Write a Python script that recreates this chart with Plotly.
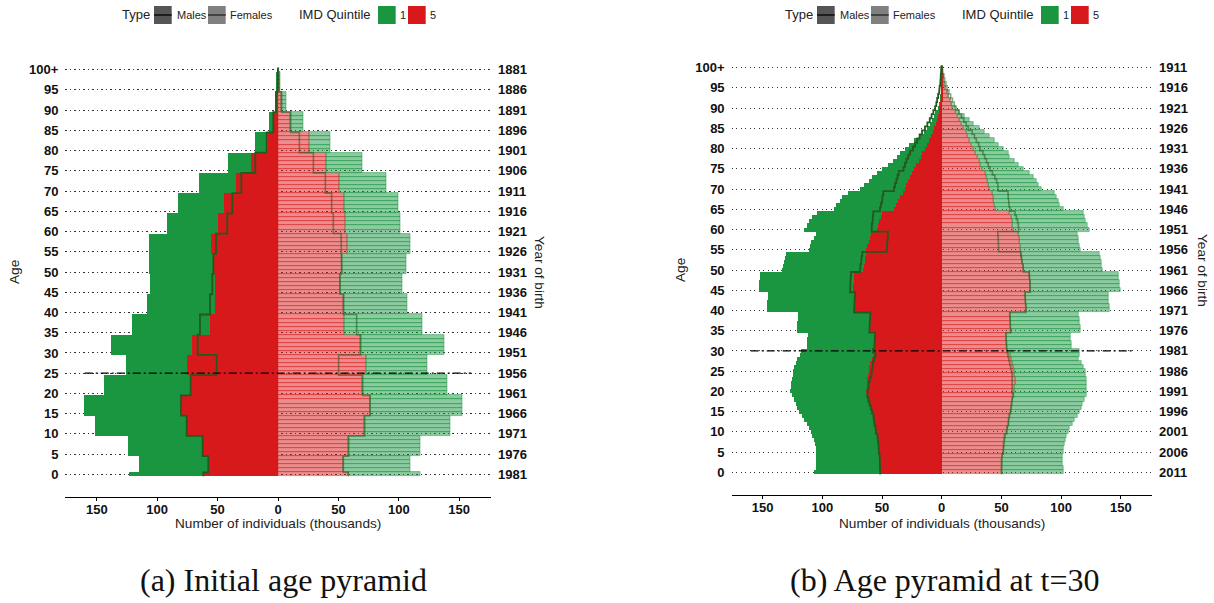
import numpy as np
import plotly.graph_objects as go

# ---------------------------------------------------------------------------
# Panel (a): initial population (thousands), by age group
# groups: 0, 1-4, 5-9, ..., 95-99, 100+
# ---------------------------------------------------------------------------
GROUP_START = [0, 1, 5, 10, 15, 20, 25, 30, 35, 40, 45, 50, 55, 60, 65, 70, 75, 80, 85, 90, 95, 100]

a_male_q1 = [123.3, 115.1, 124.2, 151.5, 160.6, 144.0, 125.8, 138.2, 120.9, 108.4, 106.0,
             106.5, 106.5, 91.6, 82.5, 65.1, 41.1, 18.8, 7.2, 2.2, 0.6, 0.3]
a_male_q5 = [61.8, 57.7, 62.4, 75.6, 80.3, 72.3, 75.1, 71.2, 56.3, 52.2, 52.2,
             53.5, 55.5, 49.7, 44.7, 34.8, 22.1, 8.3, 3.9, 1.3, 0.3, 0.1]
a_male_ref = [61.8, 57.7, 62.4, 75.6, 80.3, 72.3, 50.8, 66.5, 64.6, 56.3, 54.4,
              53.5, 51.3, 42.0, 37.8, 30.4, 18.8, 9.4, 3.9, 1.6, 0.4, 0.1]
a_female_q1 = [117.5, 109.3, 117.5, 143.0, 152.9, 140.5, 123.9, 138.0, 119.8, 107.4, 103.2,
               106.5, 109.8, 101.6, 99.9, 90.0, 70.1, 43.6, 21.0, 6.6, 2.0, 0.5]
a_female_q5 = [58.2, 54.1, 58.5, 71.8, 76.2, 70.1, 73.4, 68.5, 54.9, 54.9, 51.3,
               53.2, 57.4, 55.7, 54.6, 50.8, 40.3, 25.7, 10.5, 3.0, 1.0, 0.3]
a_female_ref = [58.2, 54.1, 58.5, 71.8, 76.2, 70.1, 50.2, 68.5, 65.1, 54.0, 51.3,
                52.7, 52.2, 45.8, 44.4, 39.2, 29.3, 17.7, 10.5, 3.0, 0.8, 0.3]

# ---------------------------------------------------------------------------
# Panel (b): population at t = 30 (thousands), single years of age 0..100
# ---------------------------------------------------------------------------
b_male_q1 = [
    106.9, 106.0, 105.6, 105.4, 105.4, 105.7, 106.0, 106.6, 107.4, 108.8,   # 0-9
    110.2, 111.6, 113.0, 115.8, 117.2, 120.0, 121.4, 122.8, 124.2, 125.6,   # 10-19
    127.0, 126.8, 126.5, 125.9, 125.3, 124.8, 124.2, 122.8, 121.4, 119.2,   # 20-29
    118.0, 113.5, 113.2, 112.9, 112.6, 121.8, 121.5, 121.2, 120.9, 120.5,   # 30-39
    147.0, 146.8, 146.5, 146.2, 146.0, 153.8, 153.5, 153.2, 152.8, 152.4,   # 40-49
    134.5, 133.5, 132.5, 131.5, 130.5, 111.7, 111.0, 109.5, 107.6, 106.0,   # 50-59
    115.3, 113.0, 111.7, 109.0, 104.7, 90.8, 88.5, 85.2, 83.8, 79.0,        # 60-69
    68.4, 65.6, 61.5, 58.7, 54.5, 50.4, 45.5, 41.5, 38.0, 35.0,             # 70-79
    30.8, 28.0, 23.7, 19.5, 15.4, 12.6, 9.8, 8.4, 7.0, 5.6,                 # 80-89
    3.6, 2.8, 2.0, 1.4, 1.1, 0.8, 0.6, 0.4, 0.3, 0.2,                       # 90-99
    0.3]
b_male_q5 = [
    51.5, 51.8, 51.8, 51.9, 52.0, 52.5, 52.8, 53.1, 53.4, 53.9,
    55.0, 55.5, 56.3, 56.9, 57.2, 58.3, 59.4, 60.4, 61.5, 62.3,
    63.4, 63.1, 62.9, 62.6, 62.0, 61.5, 60.9, 60.1, 58.7, 57.3,
    58.0, 56.6, 56.4, 56.2, 56.0, 60.8, 60.6, 60.4, 60.2, 60.0,
    73.6, 73.4, 73.2, 73.0, 72.8, 74.6, 74.4, 74.2, 74.0, 73.8,
    66.0, 65.6, 65.0, 64.4, 63.8, 63.5, 62.5, 61.5, 60.5, 59.5,
    54.5, 53.5, 52.5, 51.5, 50.3, 40.0, 38.5, 37.0, 35.0, 33.0,
    31.5, 30.0, 28.5, 27.0, 25.5, 23.5, 21.5, 19.5, 18.0, 16.5,
    14.5, 12.5, 11.0, 9.5, 8.0, 6.5, 5.5, 4.5, 3.6, 2.8,
    2.2, 1.7, 1.3, 1.0, 0.7, 0.5, 0.4, 0.3, 0.2, 0.1,
    0.1]
b_male_ref = [
    51.5, 51.8, 51.8, 51.9, 52.0, 52.5, 52.8, 53.1, 53.4, 53.9,
    55.0, 55.5, 56.3, 56.9, 57.2, 58.3, 59.4, 60.4, 61.5, 62.3,
    62.0, 61.5, 61.0, 60.0, 59.0, 58.5, 58.0, 57.5, 56.5, 55.5,
    57.5, 56.4, 56.2, 56.0, 55.8, 60.6, 60.4, 60.2, 60.0, 59.8,
    73.4, 73.2, 73.0, 72.8, 72.6, 76.8, 76.6, 76.4, 76.2, 76.0,
    68.4, 68.0, 67.5, 67.0, 66.5, 46.0, 45.8, 45.5, 45.2, 45.0,
    58.7, 58.5, 58.0, 57.6, 57.3, 51.7, 51.0, 50.0, 49.5, 48.9,
    40.0, 39.1, 38.0, 37.0, 36.0, 32.0, 30.7, 29.5, 28.0, 26.5,
    24.0, 22.3, 20.5, 18.5, 16.5, 14.0, 12.0, 10.0, 8.5, 7.0,
    5.5, 4.5, 3.8, 3.0, 2.3, 1.7, 1.3, 1.0, 0.7, 0.5,
    0.3]
b_female_q1 = [
    102.4, 101.9, 101.3, 101.3, 101.3, 101.9, 102.4, 103.3, 104.1, 104.7,
    106.0, 107.5, 109.7, 111.6, 113.9, 115.3, 117.2, 118.0, 120.0, 121.2,
    121.5, 121.7, 121.5, 121.4, 120.9, 120.3, 118.6, 117.2, 115.0, 115.8,
    115.8, 108.6, 108.4, 108.2, 108.0, 116.5, 116.2, 115.8, 115.5, 115.0,
    141.0, 140.6, 140.2, 139.8, 139.4, 149.5, 149.2, 148.8, 148.4, 148.0,
    135.0, 134.3, 133.6, 133.0, 132.5, 116.5, 115.8, 115.0, 114.4, 113.5,
    123.7, 122.0, 120.8, 120.0, 118.6, 101.9, 99.1, 97.7, 96.3, 94.9,
    83.7, 80.9, 79.5, 76.7, 73.9, 68.9, 64.2, 61.4, 57.2, 55.8,
    52.2, 48.0, 44.6, 40.5, 36.3, 32.1, 26.5, 23.7, 19.5, 14.8,
    12.0, 9.5, 7.5, 5.5, 4.0, 3.0, 2.2, 1.5, 1.0, 0.6,
    0.3]
b_female_q5 = [
    50.2, 50.2, 50.3, 50.4, 50.6, 51.5, 52.0, 52.2, 52.6, 53.0,
    54.5, 55.0, 55.8, 56.3, 56.8, 57.6, 58.2, 58.6, 59.2, 60.0,
    61.0, 61.4, 61.6, 61.6, 61.4, 61.0, 60.4, 59.6, 58.8, 58.0,
    55.0, 54.6, 54.4, 54.2, 54.0, 58.2, 58.0, 57.8, 57.6, 57.4,
    71.0, 70.8, 70.6, 70.4, 70.2, 74.6, 74.4, 74.2, 74.0, 73.8,
    69.0, 68.4, 67.8, 67.2, 66.6, 66.5, 66.0, 65.5, 65.0, 64.5,
    60.0, 59.5, 59.0, 58.2, 57.2, 45.5, 44.6, 43.8, 43.2, 42.5,
    40.5, 39.5, 38.5, 37.5, 36.5, 34.0, 32.5, 31.5, 30.0, 28.5,
    26.5, 25.0, 23.7, 22.0, 20.5, 18.5, 16.5, 15.3, 13.5, 11.5,
    9.5, 8.5, 7.5, 6.0, 5.0, 3.5, 2.8, 2.0, 1.4, 0.9,
    0.5]
b_female_ref = [
    50.2, 50.2, 50.3, 50.4, 50.6, 51.5, 52.0, 52.2, 52.6, 53.0,
    54.5, 55.0, 55.8, 56.3, 56.8, 57.6, 58.2, 58.6, 59.2, 60.0,
    59.0, 59.2, 59.3, 59.3, 59.0, 58.5, 57.8, 57.0, 56.2, 55.5,
    54.8, 54.4, 54.2, 54.0, 53.8, 57.8, 57.6, 57.4, 57.2, 57.0,
    70.6, 70.4, 70.2, 70.0, 69.8, 74.2, 74.0, 73.8, 73.6, 73.4,
    68.6, 68.0, 67.4, 66.8, 66.2, 47.8, 47.6, 47.4, 47.2, 47.0,
    64.5, 64.2, 63.6, 62.6, 61.4, 57.2, 56.5, 56.0, 55.8, 55.5,
    47.4, 47.0, 46.0, 44.5, 42.5, 40.5, 39.0, 37.5, 36.0, 34.5,
    32.1, 31.0, 29.0, 27.5, 25.5, 22.3, 20.5, 18.5, 16.5, 14.5,
    12.0, 10.5, 9.0, 7.5, 6.0, 4.5, 3.5, 2.5, 1.8, 1.0,
    0.5]

# Axis labels
AGE_TICKS = [0, 5, 10, 15, 20, 25, 30, 35, 40, 45, 50, 55, 60, 65, 70, 75, 80, 85, 90, 95, 100]
AGE_LABELS = ["0", "5", "10", "15", "20", "25", "30", "35", "40", "45", "50",
              "55", "60", "65", "70", "75", "80", "85", "90", "95", "100+"]
BIRTH_A = ["1981", "1976", "1971", "1966", "1961", "1956", "1951", "1946", "1941", "1936", "1931",
           "1926", "1921", "1916", "1911", "1906", "1901", "1896", "1891", "1886", "1881"]
BIRTH_B = ["2011", "2006", "2001", "1996", "1991", "1986", "1981", "1976", "1971", "1966", "1961",
           "1956", "1951", "1946", "1941", "1936", "1931", "1926", "1921", "1916", "1911"]
X_TICKS = [-150, -100, -50, 0, 50, 100, 150]
X_LABELS = ["150", "100", "50", "0", "50", "100", "150"]
CUTOFF_A = 25
CUTOFF_B = 30
CUTOFF_SPAN = 160
CAPTION_A = "(a) Initial age pyramid"
CAPTION_B = "(b) Age pyramid at t=30"

# ---------------------------------------------------------------------------
W, H = 1214, 603
GREEN = "#1a9641"
RED = "#d7191c"
REF_LINE = "rgb(36,88,28)"
REF_LINE_F = "rgba(36,88,28,0.55)"
SANS = "Liberation Sans, Arial, sans-serif"
SERIF = "Liberation Serif, Times New Roman, serif"

AGES = np.arange(0, 101)


def per_year(values):
    sizes = np.diff(GROUP_START + [101])
    return np.repeat(np.asarray(values, float), sizes)


def step_path(values, sign):
    xs, ys = [], []
    for a, v in zip(AGES, values):
        xs += [sign * v, sign * v]
        ys += [a - 0.5, a + 0.5]
    return xs, ys


def px_x(x):
    return x / W


def px_y(y):
    return 1 - y / H


fig = go.Figure()


def add_panel(xa, ya, m_q1, m_q5, m_ref, f_q1, f_q5, f_ref, cutoff):
    m_q1, m_q5, m_ref = map(lambda v: np.asarray(v, float), (m_q1, m_q5, m_ref))
    f_q1, f_q5, f_ref = map(lambda v: np.asarray(v, float), (f_q1, f_q5, f_ref))
    common = dict(orientation="h", y=AGES, width=1, xaxis=xa, yaxis=ya,
                  hoverinfo="skip", showlegend=False)
    # males: solid bars
    fig.add_trace(go.Bar(x=-m_q1, base=0, marker=dict(color=GREEN, line=dict(width=0)), **common))
    fig.add_trace(go.Bar(x=-m_q5, base=0, marker=dict(color=RED, line=dict(width=0)), **common))
    # females: translucent single-year bars
    fig.add_trace(go.Bar(x=f_q5, base=0,
                         marker=dict(color="rgba(215,25,28,0.5)",
                                     line=dict(color="rgba(215,25,28,0.55)", width=0.8)), **common))
    fig.add_trace(go.Bar(x=np.maximum(f_q1 - f_q5, 0), base=f_q5,
                         marker=dict(color="rgba(26,150,65,0.5)",
                                     line=dict(color="rgba(26,150,65,0.6)", width=0.8)), **common))
    # outline steps
    mx, my = step_path(m_ref, -1)
    fig.add_trace(go.Scatter(x=mx, y=my, mode="lines", line=dict(color=REF_LINE, width=1.8),
                             xaxis=xa, yaxis=ya, hoverinfo="skip", showlegend=False))
    fx, fy = step_path(f_ref, 1)
    fig.add_trace(go.Scatter(x=fx, y=fy, mode="lines", line=dict(color=REF_LINE_F, width=1.6),
                             xaxis=xa, yaxis=ya, hoverinfo="skip", showlegend=False))
    # cut-off age
    fig.add_trace(go.Scatter(x=[-CUTOFF_SPAN, CUTOFF_SPAN], y=[cutoff, cutoff], mode="lines",
                             line=dict(color="black", width=1.2, dash="8px,3px,2px,3px"),
                             xaxis=xa, yaxis=ya, hoverinfo="skip", showlegend=False))


add_panel("x", "y", per_year(a_male_q1), per_year(a_male_q5), per_year(a_male_ref),
          per_year(a_female_q1), per_year(a_female_q5), per_year(a_female_ref), CUTOFF_A)
add_panel("x2", "y2", b_male_q1, b_male_q5, b_male_ref,
          b_female_q1, b_female_q5, b_female_ref, CUTOFF_B)

# panel geometry (pixels)
PANELS = [
    dict(x0=65.4, x1=490.6, y0=47, y1=497, xa="x", ya="y", birth=BIRTH_A, caption=CAPTION_A,
         cap_x=283, age_x=15, yob_x=539, leg_dx=0),
    dict(x0=731.6, x1=1151.8, y0=45, y1=495, xa="x2", ya="y2", birth=BIRTH_B, caption=CAPTION_B,
         cap_x=945, age_x=680, yob_x=1203, leg_dx=663),
]

tick_font = dict(family=SANS, size=13, color="#111", weight="bold")
layout = dict(width=W, height=H, margin=dict(l=0, r=0, t=0, b=0),
              paper_bgcolor="white", plot_bgcolor="white", barmode="overlay", bargap=0,
              showlegend=False)
annotations = []
shapes = []


def note(text, x, y, font, xanchor="center", textangle=0):
    annotations.append(dict(text=text, x=px_x(x), xref="paper", xanchor=xanchor,
                            y=px_y(y), yref="paper", yanchor="middle", showarrow=False,
                            textangle=textangle, font=font))


for i, p in enumerate(PANELS):
    sx = "" if i == 0 else "2"
    layout["xaxis" + sx] = dict(
        domain=[px_x(p["x0"]), px_x(p["x1"])], range=[-176, 176], anchor=p["ya"],
        tickvals=X_TICKS, ticktext=X_LABELS, tickfont=tick_font,
        showline=True, linecolor="black", linewidth=1.2,
        ticks="outside", ticklen=3, tickwidth=1, tickcolor="black", ticklabelstandoff=-3,
        showgrid=False, zeroline=False, fixedrange=True)
    layout["yaxis" + sx] = dict(
        domain=[px_y(p["y1"]), px_y(p["y0"])], range=[-5.6, 105.6], anchor=p["xa"],
        tickvals=AGE_TICKS, ticktext=AGE_LABELS, tickfont=tick_font,
        ticks="", ticklabelstandoff=6,
        showgrid=True, gridcolor="#333", gridwidth=1, griddash="1.3px,3.2px",
        showline=False, zeroline=False, fixedrange=True)

    # year of birth labels on the right
    for age, yr in zip(AGE_TICKS, p["birth"]):
        annotations.append(dict(text=yr, x=1, xref=p["xa"] + " domain", xanchor="left", xshift=5,
                                y=age, yref=p["ya"], yanchor="middle", showarrow=False,
                                font=tick_font))
    mid = (p["y0"] + p["y1"]) / 2
    title_font = dict(family=SANS, size=13.6, color="#222")
    note("Year of birth", p["yob_x"], mid, title_font, textangle=90)
    note("Age", p["age_x"], mid, title_font, textangle=-90)
    note("Number of individuals (thousands)", (p["x0"] + p["x1"]) / 2, 523, title_font)
    note(p["caption"], p["cap_x"], 580, dict(family=SERIF, size=32, color="#111"))

    # legend strip
    d = p["leg_dx"]
    ly = 15
    leg_font = lambda s: dict(family=SANS, size=s, color="#222")

    def box(x, fill, line_col=None):
        shapes.append(dict(type="rect", xref="paper", yref="paper",
                           x0=px_x(x + d), x1=px_x(x + d + 17.7), y0=px_y(24), y1=px_y(6),
                           fillcolor=fill, line=dict(width=0)))
        if line_col:
            shapes.append(dict(type="line", xref="paper", yref="paper",
                               x0=px_x(x + d), x1=px_x(x + d + 17.7), y0=px_y(ly), y1=px_y(ly),
                               line=dict(color=line_col, width=1.6)))

    note("Type", 119.5 + d, ly, leg_font(13), xanchor="left")
    box(154, "#555555", "#111111")
    note("Males", 174.5 + d, ly, leg_font(11), xanchor="left")
    box(208, "#808080", "#333333")
    note("Females", 228 + d, ly, leg_font(11), xanchor="left")
    note("IMD Quintile", 296.5 + d, ly, leg_font(13), xanchor="left")
    box(378, GREEN)
    note("1", 398 + d, ly, leg_font(11), xanchor="left")
    box(408, RED)
    note("5", 428 + d, ly, leg_font(11), xanchor="left")

layout["annotations"] = annotations
layout["shapes"] = shapes
fig.update_layout(**layout)
fig.write_html("out.html")
